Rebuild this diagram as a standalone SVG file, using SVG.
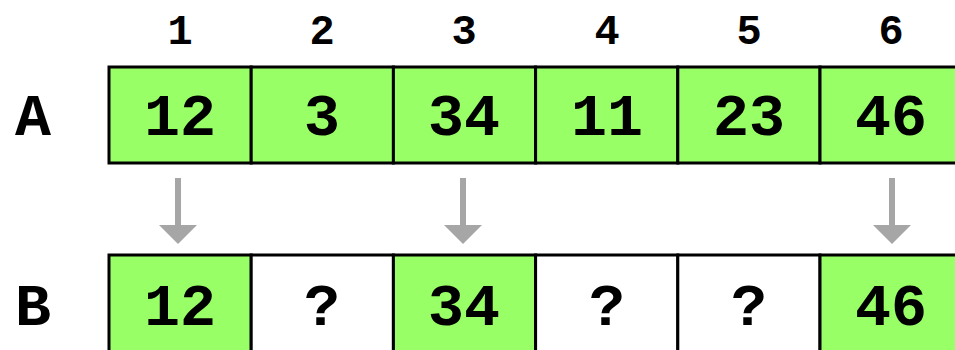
<svg xmlns="http://www.w3.org/2000/svg" width="955" height="350" viewBox="0 0 955 350">
<style>
.cell{stroke:#000;stroke-width:3}
.g{fill:#99ff66}
.w{fill:#fff}
.t{font-family:"Liberation Mono","Courier New",monospace;font-weight:bold;font-size:60px;text-anchor:middle;fill:#000}
.h{font-family:"Liberation Mono","Courier New",monospace;font-weight:bold;font-size:42px;text-anchor:middle;fill:#000}
.arr{fill:#a6a6a6}
</style>
<defs>
<path id="arrow" class="arr" d="M-3,0 H3 V47 H19 L0,66 L-19,47 H-3 Z"/>
</defs>
<rect width="955" height="350" fill="#fff"/>
<g id="headers">
<text class="h" x="180" y="44">1</text>
<text class="h" x="322" y="44">2</text>
<text class="h" x="464" y="44">3</text>
<text class="h" x="607" y="44">4</text>
<text class="h" x="749" y="44">5</text>
<text class="h" x="891" y="44">6</text>
</g>
<g id="labelA"><text class="t" x="33" y="135">A</text></g>
<g id="labelB"><text class="t" x="33" y="325">B</text></g>
<g id="rowA">
<g id="a1"><rect class="cell g" x="109" y="67" width="142.2" height="96"/><text class="t" x="180" y="135">12</text></g>
<g id="a2"><rect class="cell g" x="251.2" y="67" width="142.2" height="96"/><text class="t" x="322" y="135">3</text></g>
<g id="a3"><rect class="cell g" x="393.4" y="67" width="142.2" height="96"/><text class="t" x="464" y="135">34</text></g>
<g id="a4"><rect class="cell g" x="535.6" y="67" width="142.2" height="96"/><text class="t" x="607" y="135">11</text></g>
<g id="a5"><rect class="cell g" x="677.8" y="67" width="142.2" height="96"/><text class="t" x="749" y="135">23</text></g>
<g id="a6"><rect class="cell g" x="820" y="67" width="142.2" height="96"/><text class="t" x="891" y="135">46</text></g>
</g>
<g id="rowB">
<g id="b1"><rect class="cell g" x="109" y="255" width="142.2" height="100"/><text class="t" x="180" y="325">12</text></g>
<g id="b2"><rect class="cell w" x="251.2" y="255" width="142.2" height="100"/><text class="t" x="322" y="325">?</text></g>
<g id="b3"><rect class="cell g" x="393.4" y="255" width="142.2" height="100"/><text class="t" x="464" y="325">34</text></g>
<g id="b4"><rect class="cell w" x="535.6" y="255" width="142.2" height="100"/><text class="t" x="607" y="325">?</text></g>
<g id="b5"><rect class="cell w" x="677.8" y="255" width="142.2" height="100"/><text class="t" x="749" y="325">?</text></g>
<g id="b6"><rect class="cell g" x="820" y="255" width="142.2" height="100"/><text class="t" x="891" y="325">46</text></g>
</g>
<g id="connectors">
<use href="#arrow" x="178" y="178"/>
<use href="#arrow" x="463" y="178"/>
<use href="#arrow" x="892" y="178"/>
</g>
</svg>
